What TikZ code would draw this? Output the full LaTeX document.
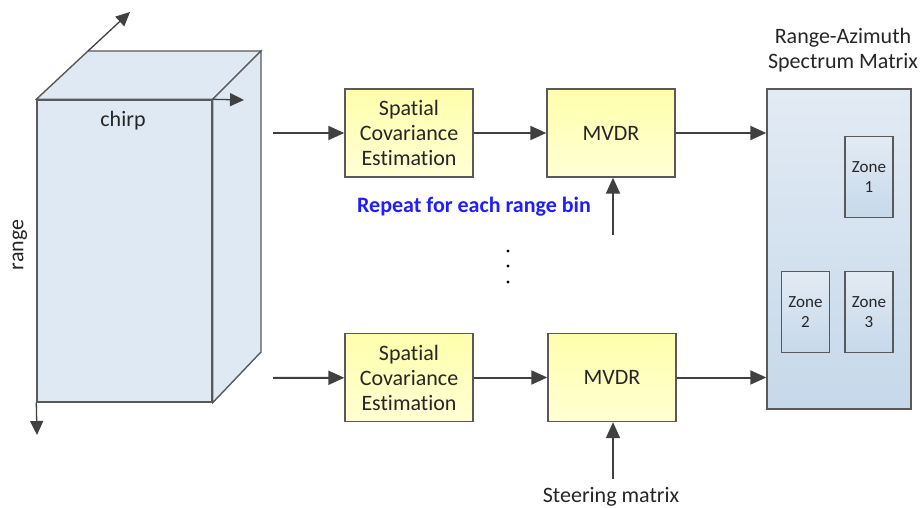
\documentclass[tikz,border=0pt]{standalone}
\usepackage{fontspec}
\setmainfont{Carlito}[Ligatures={NoCommon}]
\usetikzlibrary{shapes}
\usetikzlibrary{arrows.meta}
\definecolor{edgegray}{RGB}{89,89,89}
\definecolor{arrowgray}{RGB}{64,64,64}
\definecolor{cubeblue}{RGB}{222,233,243}
\definecolor{mattop}{RGB}{226,235,244}
\definecolor{matbot}{RGB}{198,216,234}
\definecolor{blocktop}{RGB}{255,255,172}
\definecolor{blockbot}{RGB}{255,255,212}
\definecolor{repeatblue}{RGB}{30,30,255}

\begin{document}
\begin{tikzpicture}[x=1pt,y=-1pt]
					\tikzstyle{every node}=[font=\fontsize{22}{25}\selectfont, text=black!85]
					\tikzstyle{block}=[rectangle,draw=edgegray,line width=1.4pt,top color=blocktop,bottom color=blockbot,align=center,minimum width=128pt,minimum height=88pt,inner sep=0pt]
					\tikzstyle{zone}=[rectangle,draw=edgegray,line width=1.3pt,top color=mattop,bottom color=matbot,align=center,minimum width=48pt,minimum height=81pt,inner sep=0pt,font=\fontsize{17}{20}\selectfont]
					\tikzstyle{flow}=[draw=arrowgray,line width=2pt,-{Triangle[length=16pt,width=14pt]}]
					\tikzstyle{axis}=[draw=arrowgray,line width=1.3pt,-{Triangle[length=14pt,width=13pt]}]
					\useasboundingbox (0,0) rectangle (922,508);
					% data cube
					\node[rectangle,draw=edgegray,line width=1.4pt,fill=cubeblue,minimum width=175pt,minimum height=302pt,inner sep=0pt] (cube) at (124.5,251) {};
					\draw[draw=edgegray,line width=1.4pt,fill=cubeblue] (cube.north west) -- (88,51) -- (261,51) -- (cube.north east) -- cycle;
					\draw[draw=edgegray,line width=1.4pt,fill=cubeblue] (cube.north east) -- (261,51) -- (261,352) -- (cube.south east) -- cycle;
					\coordinate (depth) at (130,12);
					\coordinate (chirpend) at (244,100);
					\coordinate (rangeend) at (37,435);
					\draw[axis] (88,51) -- (depth);
					\draw[axis] (cube.north east) -- (chirpend);
					\draw[axis] (cube.south west) -- (rangeend);
					\node (chirp) at (123,121) {chirp};
					\node[rotate=90] (range) at (20,245) {range};
					% processing chains
					\node[block] (sce1) at (409,133) {Spatial\\Covariance\\Estimation};
					\node[block] (mvdr1) at (611,133) {MVDR};
					\node[block] (sce2) at (409,377.5) {Spatial\\Covariance\\Estimation};
					\node[block] (mvdr2) at (612,377.5) {MVDR};
					\node[font=\fontsize{22}{25}\selectfont\bfseries,text=repeatblue] (repeat) at (474,207) {Repeat for each range bin};
					\foreach \y in {251,266,282}
						\fill[black] (508,\y) circle (1.6pt);
					% output matrix
					\node[rectangle,draw=edgegray,line width=1.4pt,top color=mattop,bottom color=matbot,minimum width=144pt,minimum height=320pt,inner sep=0pt] (ram) at (839,249) {};
					\node[align=center] (ramtitle) at (843,50) {Range-Azimuth\\Spectrum Matrix};
					\node[zone] (z1) at (869,177) {Zone\\1};
					\node[zone] (z2) at (805.5,312) {Zone\\2};
					\node[zone] (z3) at (869,312) {Zone\\3};
					\node (steer) at (611,497) {Steering matrix};
					\coordinate (in1) at (273,133);
					\coordinate (in2) at (273,378);
					\coordinate (w1) at (613,235);
					\coordinate (w2) at (613,479);
					\draw[flow] (in1) -- (sce1);
					\draw[flow] (sce1) -- (mvdr1);
					\draw[flow] (mvdr1.east) -- (ram.west |- mvdr1.east);
					\draw[flow] (w1) -- (w1 |- mvdr1.south);
					\draw[flow] (in2) -- (sce2);
					\draw[flow] (sce2) -- (mvdr2);
					\draw[flow] (mvdr2.east) -- (ram.west |- mvdr2.east);
					\draw[flow] (w2) -- (w2 |- mvdr2.south);
\end{tikzpicture}
\end{document}
